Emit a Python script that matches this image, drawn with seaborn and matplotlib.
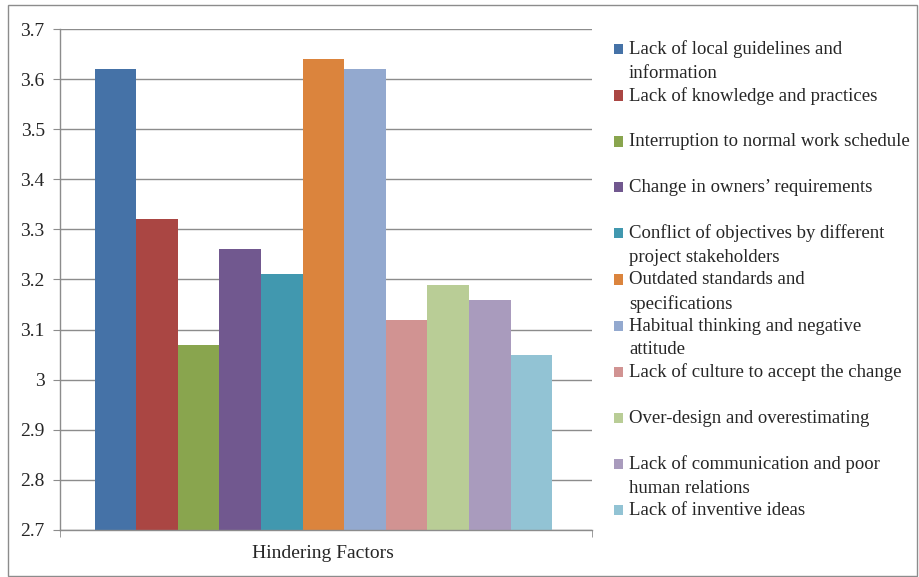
import pandas as pd
import seaborn as sns
import matplotlib.pyplot as plt
from matplotlib.patches import Rectangle

group = "Hindering Factors"
factors = [
    "Lack of local guidelines and\ninformation",
    "Lack of knowledge and practices",
    "Interruption to normal work schedule",
    "Change in owners\u2019 requirements",
    "Conflict of objectives by different\nproject stakeholders",
    "Outdated standards and\nspecifications",
    "Habitual thinking and negative\nattitude",
    "Lack of culture to accept the change",
    "Over-design and overestimating",
    "Lack of communication and poor\nhuman relations",
    "Lack of inventive ideas",
]
scores = [3.62, 3.32, 3.07, 3.26, 3.21, 3.64, 3.62, 3.12, 3.19, 3.16, 3.05]
colors = ["#4572A7", "#AA4643", "#89A54E", "#71588F", "#4198AF", "#DB843D",
          "#93A9CF", "#D19392", "#B9CD96", "#A99BBD", "#92C3D4"]

df = pd.DataFrame({"group": group, "factor": factors, "score": scores})

sns.set_style("white")
plt.rcParams["font.family"] = ["Liberation Serif", "DejaVu Serif"]

fig = plt.figure(figsize=(9.2, 5.77), dpi=100)
ax = fig.add_axes([0.0652, 0.0815, 0.5783, 0.8682])

sns.barplot(data=df, x="group", y="score", hue="factor", palette=colors,
            width=0.86, gap=0, linewidth=0, saturation=1, ax=ax, legend=True)

ax.set_ylim(2.7, 3.7)
ax.set_yticks([2.7, 2.8, 2.9, 3.0, 3.1, 3.2, 3.3, 3.4, 3.5, 3.6, 3.7])
ax.set_yticklabels(["2.7", "2.8", "2.9", "3", "3.1", "3.2", "3.3", "3.4", "3.5", "3.6", "3.7"])
ax.set_xlim(-0.495, 0.505)
ax.yaxis.grid(True, color="#8c8c8c", linewidth=1)
ax.set_axisbelow(True)
for s in ["top", "right"]:
    ax.spines[s].set_visible(False)
for s in ["left", "bottom"]:
    ax.spines[s].set_color("#8c8c8c")
    ax.spines[s].set_linewidth(1)
ax.tick_params(axis="y", left=True, length=5, color="#8c8c8c", labelsize=14, pad=6)
ax.tick_params(axis="x", which="major", length=0, labelsize=14, pad=11)
ax.set_xticks([-0.495, 0.505], minor=True)
ax.tick_params(axis="x", which="minor", bottom=True, length=5, color="#8c8c8c")
ax.set_xlabel("")
ax.set_ylabel("")

# legend: every entry takes two text lines, square next to the first line
handles, labels = ax.get_legend_handles_labels()
labels = [l if "\n" in l else l + "\n " for l in labels]
ax.legend_.remove()
leg = fig.legend(handles, labels, loc="upper left", bbox_to_anchor=(0.649, 0.959),
                 frameon=False, fontsize=13.5, labelspacing=0.27,
                 handlelength=0.5, handleheight=0.5, handletextpad=0.3)
for t in leg.get_texts():
    t.set_linespacing(1.5)
for h in leg.legend_handles:
    h.set_y(h.get_y() + 8.7)

fig.patches.append(Rectangle((0.009, 0.002), 0.988, 0.99, transform=fig.transFigure,
                             fill=False, edgecolor="#8c8c8c", linewidth=1))

fig.savefig("out.png", dpi=100)
